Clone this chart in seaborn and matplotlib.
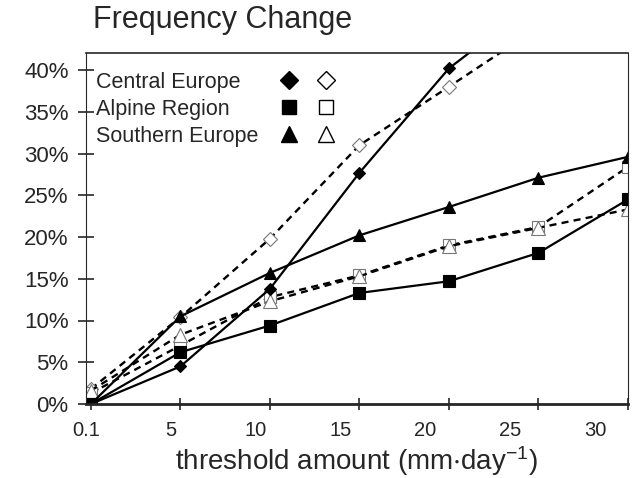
import numpy as np
import pandas as pd
import seaborn as sns
import matplotlib.pyplot as plt
from matplotlib.lines import Line2D
from matplotlib.legend_handler import HandlerTuple

sns.set_style("ticks")
plt.rcParams["font.family"] = ["Liberation Sans", "DejaVu Sans"]
plt.rcParams["mathtext.default"] = "regular"

# Data (frequency change in %, per threshold amount)
thresholds = ["0.1", "5", "10", "15", "20", "25", "30"]
central_solid = [0.0, 4.5, 13.8, 27.7, 40.2, 48.4, 56.0]
central_dash = [1.8, 10.4, 19.8, 31.0, 38.0, 45.1, 52.0]
alpine_solid = [0.0, 6.2, 9.4, 13.3, 14.7, 18.1, 24.5]
alpine_dash = [1.3, 7.0, 12.8, 15.4, 19.0, 21.2, 28.4]
southern_solid = [0.0, 10.5, 15.7, 20.2, 23.6, 27.1, 29.6]
southern_dash = [1.6, 8.3, 12.3, 15.3, 18.9, 21.1, 23.3]
regions = ["Central Europe", "Alpine Region", "Southern Europe"]

pos = np.arange(len(thresholds))

fig = plt.figure(figsize=(6.33, 4.78), dpi=100)
ax = fig.add_axes([86 / 633, 1 - 404 / 478, 542 / 633, 350.7 / 478])

series = [
    (central_dash, "D", 6, "dash"),
    (alpine_dash, "s", 8, "dash"),
    (southern_dash, "^", 8.5, "dash"),
    (central_solid, "D", 6, "solid"),
    (alpine_solid, "s", 8, "solid"),
    (southern_solid, "^", 8.5, "solid"),
]

for vals, mk, ms, kind in series:
    if kind == "solid":
        sns.lineplot(x=pos, y=vals, ax=ax, color="black", lw=1.6, marker=mk,
                     markersize=ms, markerfacecolor="black",
                     markeredgecolor="black", markeredgewidth=0.8)
    else:
        line = sns.lineplot(x=pos, y=vals, ax=ax, color="black", lw=1.7,
                            marker=mk, markersize=ms + 1,
                            markerfacecolor="white", markeredgecolor="#777777",
                            markeredgewidth=0.8)
        line.lines[-1].set_dashes((3, 2.2))

ax.set_xlim(0, 6)
ax.set_ylim(0, 42)
ax.set_yticks(range(0, 41, 5))
ax.set_yticklabels([f"{v}%" for v in range(0, 41, 5)])
ax.set_xticks(pos)
ax.set_xticklabels([])
# labels sit slightly left of the ticks, as in the original
ax.set_xticks(pos * 0.948 - 0.055, labels=thresholds, minor=True)
ax.tick_params(axis="x", which="minor", length=0, labelsize=14.5, pad=12)
ax.tick_params(axis="x", which="major", direction="inout", length=8, width=1.2)
ax.tick_params(axis="y", direction="inout", length=11, width=1.2,
               labelsize=16, pad=7)
for s in ax.spines.values():
    s.set_linewidth(1.2)
ax.spines["left"].set_linewidth(0.8)
ax.spines["right"].set_linewidth(0.8)
ax.spines["bottom"].set_linewidth(2.0)

ax.set_xlabel(r"threshold amount (mm$\cdot$day$^{-1}$)", fontsize=20, labelpad=3)
ax.set_ylabel("")
fig.text(93 / 633, 1 - 28 / 478, "Frequency Change", fontsize=22, va="baseline")

# legend: names on the left, filled and open markers to the right
names = ax.legend([Line2D([], [], ls="none")] * 3, regions, loc="upper left",
                  bbox_to_anchor=(0.0185, 0.947), frameon=False, fontsize=15.5,
                  handlelength=0, handletextpad=0, labelspacing=0.27,
                  borderpad=0, borderaxespad=0)
ax.add_artist(names)

handles = []
for mk, ms in [("D", 9.5), ("s", 10.5), ("^", 11)]:
    filled = Line2D([], [], ls="none", marker=mk, markersize=ms, color="black")
    hollow = Line2D([], [], ls="none", marker=mk, markersize=ms,
                    markerfacecolor="white", markeredgecolor="black",
                    markeredgewidth=1.0)
    handles.append((filled, hollow))
ax.legend(handles, [""] * 3, loc="upper left", bbox_to_anchor=(0.340, 0.947),
          frameon=False, fontsize=15.5, handlelength=3.45, handletextpad=0,
          labelspacing=0.27, borderpad=0, borderaxespad=0,
          handler_map={tuple: HandlerTuple(ndivide=None, pad=0)})

fig.savefig("out.png", dpi=100)
